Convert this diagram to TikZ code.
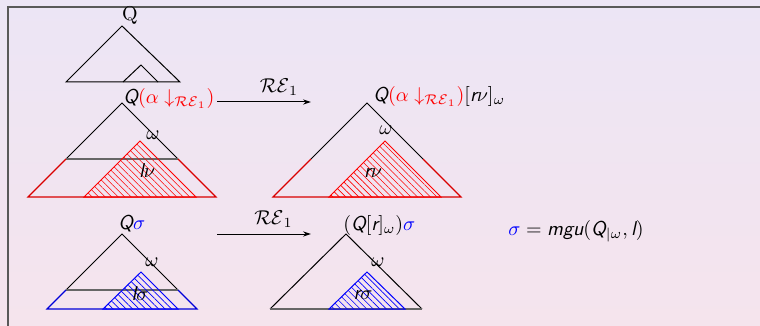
\documentclass[tikz,border=0pt]{standalone}
\usepackage{xcolor}
\usepackage{tikz}
\usetikzlibrary{arrows.meta, patterns.meta, positioning}

\definecolor{bgtop}{RGB}{236,229,245}
\definecolor{bgbot}{RGB}{245,228,237}

\newcommand{\sv}[1]{\mbox{\sffamily\itshape #1}}

\begin{document}
\begin{tikzpicture}[x=0.5pt, y=-0.5pt,
            frame/.style={draw=black!65, line width=0.7pt},
            tri/.style={draw=black, line width=0.5pt},
            cut/.style={draw=black!60, line width=0.6pt},
            redside/.style={draw=red!85!black, line width=0.6pt},
            blueside/.style={draw=blue!85!black, line width=0.6pt},
            redhatch/.style={draw=red, line width=0.5pt,
                    pattern={Lines[angle=-45, distance=2.3pt, line width=0.3pt]},
                    pattern color=red},
            bluehatch/.style={draw=blue, line width=0.5pt,
                    pattern={Lines[angle=-45, distance=2.3pt, line width=0.3pt]},
                    pattern color=blue},
            lbl/.style={inner sep=0pt},
            rel/.style={draw, line width=0.5pt, -{Stealth[length=4pt, width=2.6pt]}}
            ]

            %% ---- background and frame ----
            \shade[top color=bgtop, bottom color=bgbot] (0,0) rectangle (760,326);
            \useasboundingbox (0,0) rectangle (760,326);
            \draw[frame] (8,326) -- (8,7) -- (760,7);

            %% ---- top tree Q ----
            \node[lbl, anchor=base] (qtop) at (130,21) {Q};
            \draw[tri] (66,82) -- (122,26) -- (180,82) -- cycle;
            \draw[tri] (123,82) -- (141,65) -- (158,82);

            %% ---- row 1, left ----
            \node[lbl, anchor=base west] (qlhs) at (123,104)
                {$\sv{Q}\textcolor{red}{(\alpha\downarrow_{\mathcal{RE}_1})}$};
            \draw[tri] (66,159) -- (122,103) -- (178,159);
            \draw[cut] (66,159) -- (178,159);
            \draw[redside] (66,159) -- (28,197) -- (216,197) -- (178,159);
            \draw[redhatch] (84,197) -- (140,141) -- (196,197) -- cycle;
            \node[lbl] (om1) at (153,135) {$\omega$};
            \node[lbl] (ln) at (147,171) {$\sv{l}\nu$};

            %% ---- row 1, right ----
            \node[lbl, anchor=base west] (qrhs) at (373,102)
                {$\sv{Q}\textcolor{red}{(\alpha\downarrow_{\mathcal{RE}_1})}[\sv{r}\nu]_\omega$};
            \draw[tri] (311,159) -- (367,103) -- (423,159);
            \draw[redside] (311,159) -- (273,197) -- (461,197) -- (423,159);
            \draw[redhatch] (329,197) -- (385,141) -- (441,197) -- cycle;
            \node[lbl] (om2) at (386,130) {$\omega$};
            \node[lbl] (rn) at (373,173) {$\sv{r}\nu$};

            %% ---- row 2, left ----
            \node[lbl, anchor=base west] (qsig) at (118,229)
                {$\sv{Q}\textcolor{blue}{\sigma}$};
            \draw[tri] (66,290) -- (122,234) -- (178,290);
            \draw[cut] (66,290) -- (178,290);
            \draw[blueside] (66,290) -- (47,309) -- (197,309) -- (178,290);
            \draw[bluehatch] (103,309) -- (141,272) -- (178,309) -- cycle;
            \node[lbl] (om3) at (152,262) {$\omega$};
            \node[lbl] (ls) at (140,294) {$\sv{l}\sigma$};

            %% ---- row 2, right ----
            \node[lbl, anchor=base west] (qres) at (343,230)
                {$(\sv{Q}[\sv{r}]_\omega)\textcolor{blue}{\sigma}$};
            \draw[tri] (270,309) -- (346,234) -- (422,309);
            \draw[cut] (270,309) -- (422,309);
            \draw[bluehatch] (329,309) -- (367,272) -- (405,309) -- cycle;
            \node[lbl] (om4) at (378,262) {$\omega$};
            \node[lbl] (rs) at (363,295) {$\sv{r}\sigma$};

            %% mgu
            \node[lbl, anchor=base west] (mgu) at (508,235)
                {$\textcolor{blue}{\sigma} = \sv{mgu}(\sv{Q}_{|\omega}, \sv{l})$};

            %% ---- rewriting steps ----
            \coordinate (a1s) at (217,102);
            \coordinate (a1e) at (311,102);
            \coordinate (a2s) at (217,234);
            \coordinate (a2e) at (311,234);
            \draw[rel] (a1s) -- node[above=3pt, pos=0.66, inner sep=0pt]{$\mathcal{RE}_1$} (a1e);
            \draw[rel] (a2s) -- node[above=3pt, pos=0.6, inner sep=0pt]{$\mathcal{RE}_1$} (a2e);
        \end{tikzpicture}
\end{document}
